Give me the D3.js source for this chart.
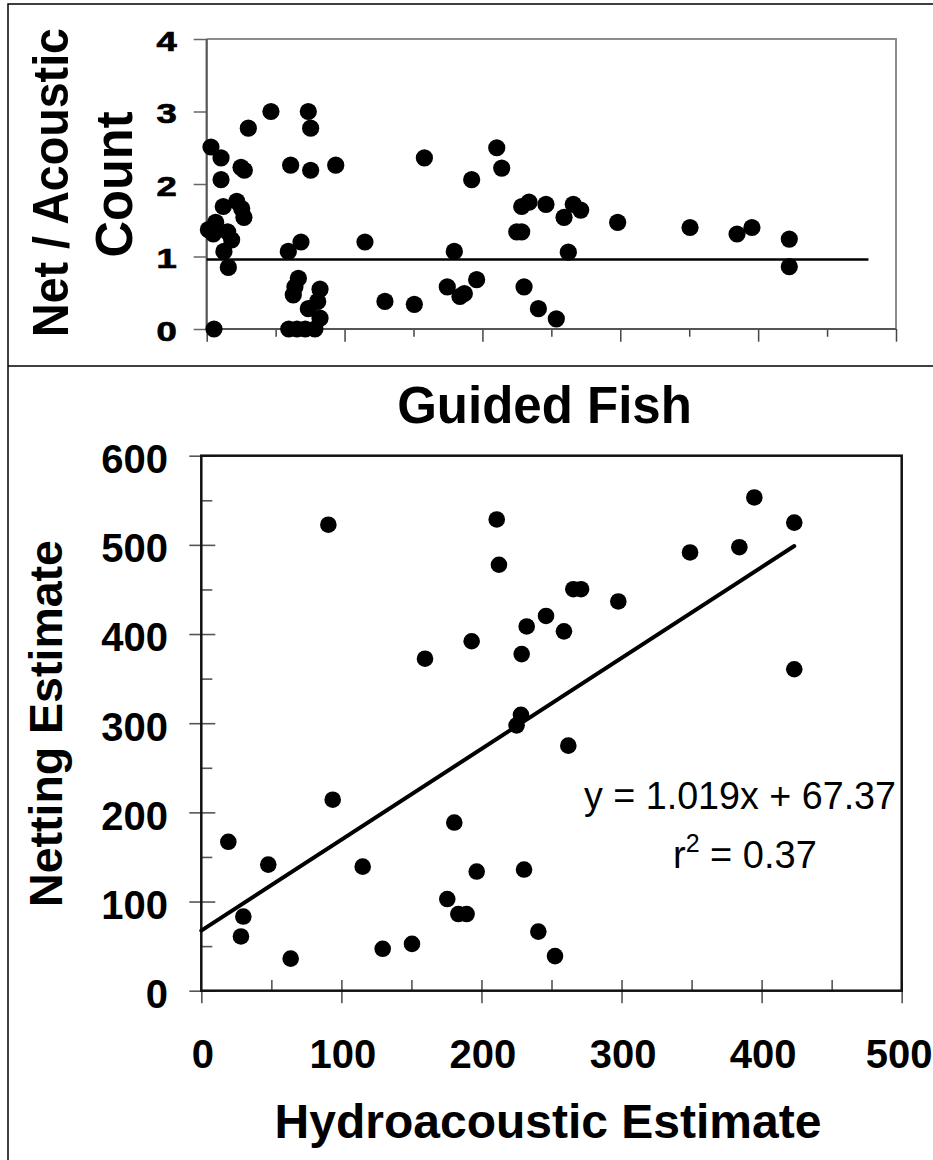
<!DOCTYPE html>
<html>
<head>
<meta charset="utf-8">
<script src="https://cdn.jsdelivr.net/npm/d3@7"></script>
<style>
  html, body { margin: 0; padding: 0; background: #fff; }
  svg { display: block; font-family: "Liberation Sans", Arial, sans-serif; }
</style>
</head>
<body>
<svg id="chart" width="933" height="1160"></svg>
<script>
// ---- Upper panel: net / acoustic count ratio against hydroacoustic estimate ----
const ratioX = [3.1, 10.4, 10.4, 12, 21.8, 25.4, 27, 1.2, 6.5, 4.8, 15.2, 18.1, 12.5, 15.7, 5.3,
  24.9, 27.3, 30.2, 46.6, 73.7, 75.4, 60.9, 75.4, 93.6, 68.4, 59.2, 114.8, 157.9, 192.2, 179.6,
  129.3, 150.6, 174.5, 183.7, 186.9, 195.8, 66.5, 64, 62.8, 82.2, 80.5, 73.7, 82.2,
  59.5, 65.5, 71.5, 78.5,
  210.4, 214, 228.5, 233.8, 246.1, 259.2, 265.9, 271.3, 224.9, 228.5, 262.3, 298.1, 350.6,
  384.7, 395.5, 422.6, 422.6, 230.2, 240.6, 253.6];
const ratioY = [2.51, 2.36, 2.06, 1.69, 1.76, 1.66, 1.54, 1.37, 1.47, 1.31, 1.34, 1.23, 1.07, 0.85, 0,
  2.23, 2.19, 2.77, 3.0, 3.0, 2.77, 2.26, 2.19, 2.26, 1.2, 1.07, 1.2, 2.36, 2.06, 1.07,
  0.38, 0.34, 0.58, 0.45, 0.49, 0.68, 0.7, 0.58, 0.47, 0.55, 0.38, 0.28, 0.15,
  0, 0, 0, 0,
  2.50, 2.22, 1.69, 1.75, 1.72, 1.54, 1.72, 1.64, 1.34, 1.34, 1.06, 1.47, 1.40,
  1.31, 1.40, 1.24, 0.86, 0.58, 0.28, 0.14];
const ratioRefLevel = 0.96;
const ratioRefEnd = 480;
const ratioTicks = [0, 1, 2, 3, 4];

// ---- Lower panel: Guided Fish, netting vs hydroacoustic estimate ----
const hydroEst = [19.3, 28.3, 30, 47.8, 63.8, 90.7, 93.8, 115.2, 129.5, 150.4, 159.7, 175.6,
  180.6, 183.5, 189.4, 193, 196.6, 210.9, 212.5, 225.1, 228.2, 228.7, 230.4, 232.3, 240.6,
  246.1, 252.5, 258.9, 262, 265.6, 271.1, 297.7, 348.9, 384.1, 394.8, 423.3, 423.3];
const netEst = [167, 60.8, 83.2, 141.4, 36, 522.6, 214.2, 139.1, 47, 52.5, 372.3, 102.8,
  188.6, 86, 86, 391.9, 133.6, 528.5, 477.7, 297.6, 309.4, 377.5, 135.9, 408.5, 66.3,
  420.3, 38.8, 403, 274.8, 450.3, 450.3, 436.5, 491.5, 497.4, 553.2, 525, 360.5];
const fitSlope = 1.019;
const fitIntercept = 67.37;
const fitR2 = "0.37";
const estTicksX = [0, 100, 200, 300, 400, 500];
const estTicksY = [0, 100, 200, 300, 400, 500, 600];
const minorX = [50, 150, 250, 350, 450];
const minorY = [50, 150, 250, 350, 450, 550];

const svg = d3.select("#chart");
const BOLD = "bold";
const FONT = "Liberation Sans, Arial, sans-serif";

// Figure outline and panel divider
svg.append("path").attr("d", "M8,1160V4H933").attr("fill", "none")
  .attr("stroke", "#000").attr("stroke-width", 1.5);
svg.append("line").attr("x1", 8).attr("x2", 933).attr("y1", 366).attr("y2", 366)
  .attr("stroke", "#000").attr("stroke-width", 1.5);

// ================= Upper panel =================
const xT = d3.scaleLinear().domain([0, 500]).range([206.7, 896]);
const yT = d3.scaleLinear().domain([0, 4]).range([329, 39]);

// light frame (top / right)
svg.append("path")
  .attr("d", `M${xT(0)},${yT(4)}H${xT(500)}V${yT(0)}`)
  .attr("fill", "none").attr("stroke", "#8c8c8c").attr("stroke-width", 2);

// y axis
const gyT = svg.append("g").attr("transform", `translate(${xT(0)},0)`)
  .call(d3.axisLeft(yT).tickValues(ratioTicks).tickSize(13).tickFormat(d3.format("d")));
gyT.select(".domain").remove();
gyT.selectAll(".tick line").attr("stroke", "#666").attr("stroke-width", 1.5);
gyT.selectAll(".tick text")
  .attr("x", 0).attr("dy", "0.38em")
  .attr("transform", "translate(-30,1) scale(1.35,1)")
  .attr("font-size", 27).attr("font-weight", BOLD).attr("fill", "#000")
  .attr("stroke", "#000").attr("stroke-width", 0.7)
  .attr("font-family", FONT);

// x axis (unlabelled ticks every 50)
const gxT = svg.append("g").attr("transform", `translate(0,${yT(0)})`)
  .call(d3.axisBottom(xT).tickValues(d3.range(0, 501, 50)).tickFormat(""));
gxT.select(".domain").remove();
gxT.selectAll(".tick line")
  .attr("y2", d => (d % 100 === 0 ? 12.7 : 7.7))
  .attr("stroke", "#444").attr("stroke-width", 1.5);

// dark axis lines
svg.append("path")
  .attr("d", `M${xT(0)},${yT(4)}V${yT(0)}H${xT(500)}`)
  .attr("fill", "none").attr("stroke", "#555").attr("stroke-width", 2.2);

// reference line at ratio ~1
svg.append("line")
  .attr("x1", xT(0)).attr("x2", xT(ratioRefEnd))
  .attr("y1", yT(ratioRefLevel)).attr("y2", yT(ratioRefLevel))
  .attr("stroke", "#000").attr("stroke-width", 2.5);

// points
svg.append("g").selectAll("circle")
  .data(d3.range(ratioX.length))
  .join("circle")
  .attr("cx", i => xT(ratioX[i]))
  .attr("cy", i => yT(ratioY[i]))
  .attr("r", 8.6)
  .attr("fill", "#000");

// y title (two lines)
svg.append("text")
  .attr("transform", "translate(68.3,182.5) rotate(-90)")
  .attr("text-anchor", "middle").attr("font-size", 50).attr("font-weight", BOLD)
  .attr("textLength", 309).attr("lengthAdjust", "spacingAndGlyphs")
  .text("Net / Acoustic");
svg.append("text")
  .attr("transform", "translate(131.5,184.5) rotate(-90)")
  .attr("text-anchor", "middle").attr("font-size", 51).attr("font-weight", BOLD)
  .attr("textLength", 146).attr("lengthAdjust", "spacingAndGlyphs")
  .text("Count");

// ================= Lower panel =================
const xB = d3.scaleLinear().domain([0, 500]).range([201.3, 901.7]);
const yB = d3.scaleLinear().domain([0, 600]).range([990.7, 455.7]);

// title
svg.append("text").attr("x", 544.5).attr("y", 422.5)
  .attr("text-anchor", "middle").attr("font-size", 51).attr("font-weight", BOLD)
  .text("Guided Fish");

// y axis major ticks (crossing) with labels
const gyB = svg.append("g").attr("transform", `translate(${xB(0)},0)`)
  .call(d3.axisLeft(yB).tickValues(estTicksY).tickSize(12).tickFormat(d3.format("d")));
gyB.select(".domain").remove();
gyB.selectAll(".tick line").attr("x1", 14).attr("x2", -12)
  .attr("stroke", "#555").attr("stroke-width", 1.6);
gyB.selectAll(".tick text")
  .attr("x", -33.3).attr("dy", "0.42em")
  .attr("font-size", 40).attr("font-weight", BOLD).attr("fill", "#000")
  .attr("font-family", FONT);

// y axis minor ticks (inside)
const gyBm = svg.append("g").attr("transform", `translate(${xB(0)},0)`)
  .call(d3.axisLeft(yB).tickValues(minorY).tickSize(-11).tickFormat(""));
gyBm.select(".domain").remove();
gyBm.selectAll(".tick line").attr("stroke", "#555").attr("stroke-width", 1.6);

// x axis major ticks (crossing) with labels
const gxB = svg.append("g").attr("transform", `translate(0,${yB(0)})`)
  .call(d3.axisBottom(xB).tickValues(estTicksX).tickSize(12.6).tickFormat(d3.format("d")));
gxB.select(".domain").remove();
gxB.selectAll(".tick line").attr("y1", d => (d === 0 ? 0 : -10.7))
  .attr("stroke", "#555").attr("stroke-width", 1.6);
gxB.selectAll(".tick text")
  .attr("x", d => (d === 500 ? -3 : 1)).attr("y", 77.5).attr("dy", 0)
  .attr("font-size", 40).attr("font-weight", BOLD).attr("fill", "#000")
  .attr("font-family", FONT);

// x axis minor ticks (inside)
const gxBm = svg.append("g").attr("transform", `translate(0,${yB(0)})`)
  .call(d3.axisBottom(xB).tickValues(minorX).tickSize(-10.7).tickFormat(""));
gxBm.select(".domain").remove();
gxBm.selectAll(".tick line").attr("stroke", "#555").attr("stroke-width", 1.6);

// plot frame
svg.append("rect")
  .attr("x", xB(0)).attr("y", yB(600))
  .attr("width", xB(500) - xB(0)).attr("height", yB(0) - yB(600))
  .attr("fill", "none").attr("stroke", "#111").attr("stroke-width", 2.5);

// fitted line
const fitMax = d3.max(hydroEst);
svg.append("line")
  .attr("x1", xB(0)).attr("y1", yB(fitIntercept))
  .attr("x2", xB(fitMax)).attr("y2", yB(fitSlope * fitMax + fitIntercept))
  .attr("stroke", "#000").attr("stroke-width", 4).attr("stroke-linecap", "round");

// points
svg.append("g").selectAll("circle")
  .data(d3.range(hydroEst.length))
  .join("circle")
  .attr("cx", i => xB(hydroEst[i]))
  .attr("cy", i => yB(netEst[i]))
  .attr("r", 8.3)
  .attr("fill", "#000");

// equation and r-squared
svg.append("text").attr("x", 584).attr("y", 809)
  .attr("font-size", 38).attr("textLength", 312).attr("lengthAdjust", "spacingAndGlyphs")
  .text(`y = ${fitSlope}x + ${fitIntercept}`);
const r2 = svg.append("text").attr("x", 673).attr("y", 868).attr("font-size", 38);
r2.append("tspan").text("r");
r2.append("tspan").attr("font-size", 25).attr("dy", -16).text("2");
r2.append("tspan").attr("dy", 16).text(` = ${fitR2}`);

// axis titles
svg.append("text")
  .attr("transform", "translate(62,723.5) rotate(-90)")
  .attr("text-anchor", "middle").attr("font-size", 46.5).attr("font-weight", BOLD)
  .text("Netting Estimate");
svg.append("text").attr("x", 548).attr("y", 1138)
  .attr("text-anchor", "middle").attr("font-size", 48).attr("font-weight", BOLD)
  .text("Hydroacoustic Estimate");
</script>
</body>
</html>
